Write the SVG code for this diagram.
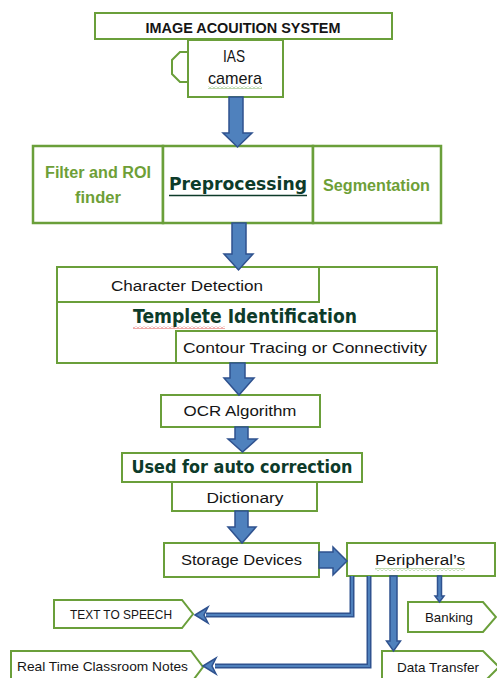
<svg xmlns="http://www.w3.org/2000/svg" width="497" height="678" viewBox="0 0 497 678">
  <defs>
    <style>
      .box { fill: #ffffff; stroke: #6A9F3A; stroke-width: 2; }
      .boxb { fill: #ffffff; stroke: #6A9F3A; stroke-width: 2.5; }
      .t { font-family: "Liberation Sans", Arial, sans-serif; font-size: 15.5px; fill: #151515; }
      .tl { font-family: "Liberation Sans", Arial, sans-serif; font-size: 17px; fill: #151515; }
      .ts { font-family: "Liberation Sans", Arial, sans-serif; font-size: 13.5px; fill: #151515; }
      .tb { font-family: "Liberation Sans", Arial, sans-serif; font-size: 14px; font-weight: bold; fill: #151515; }
      .tg { font-family: "Liberation Sans", Arial, sans-serif; font-size: 16px; font-weight: bold; fill: #6E9F37; }
      .th { font-family: "DejaVu Sans", "Liberation Sans", sans-serif; font-weight: bold; fill: #0D3B2A; }
      .blk { fill: #4F81BD; stroke: #2F528F; stroke-width: 1.5; stroke-linejoin: miter; }
      .lineo { fill: none; stroke: #2F528F; stroke-width: 5; }
      .linei { fill: none; stroke: #4F81BD; stroke-width: 2; }
    </style>
    <pattern id="wavyGreen" width="4" height="3" patternUnits="userSpaceOnUse">
      <path d="M0,2.5 L2,0.5 L4,2.5" fill="none" stroke="#5E9E3A" stroke-width="0.8"/>
    </pattern>
    <pattern id="wavyRed" width="4" height="3" patternUnits="userSpaceOnUse">
      <path d="M0,2.5 L2,0.5 L4,2.5" fill="none" stroke="#D9302A" stroke-width="0.8"/>
    </pattern>
  </defs>

  <rect width="497" height="678" fill="#ffffff"/>

  <!-- acquisition stage -->
  <g id="image-acquisition-system">
    <rect class="box" x="95" y="13" width="297" height="26"/>
    <text class="tb" x="243" y="33" text-anchor="middle" textLength="195" lengthAdjust="spacingAndGlyphs">IMAGE ACOUITION SYSTEM</text>
  </g>
  <g id="ias-camera">
    <path d="M188,52 H180 L172,60 V74 L180,82 H188" fill="#ffffff" stroke="#6A9F3A" stroke-width="2"/>
    <rect class="box" x="188" y="40" width="95" height="57"/>
    <text class="tl" x="234" y="62" text-anchor="middle" textLength="22" lengthAdjust="spacingAndGlyphs">IAS</text>
    <text class="tl" x="235" y="84" text-anchor="middle" textLength="54" lengthAdjust="spacingAndGlyphs">camera</text>
    <rect x="208" y="86" width="54" height="3" fill="url(#wavyGreen)"/>
  </g>

  <!-- preprocessing stage -->
  <g id="filter-roi">
    <rect class="boxb" x="33" y="146" width="130" height="77"/>
    <text class="tg" x="98" y="178" text-anchor="middle" textLength="106" lengthAdjust="spacingAndGlyphs">Filter and ROI</text>
    <text class="tg" x="98" y="203" text-anchor="middle" textLength="46" lengthAdjust="spacingAndGlyphs">finder</text>
  </g>
  <g id="preprocessing">
    <rect class="boxb" x="163" y="146" width="150" height="77"/>
    <text class="th" x="238" y="190" font-size="18" text-anchor="middle" textLength="138" lengthAdjust="spacingAndGlyphs">Preprocessing</text>
    <line x1="169" y1="195.5" x2="307" y2="195.5" stroke="#0D3B2A" stroke-width="1.5"/>
  </g>
  <g id="segmentation">
    <rect class="boxb" x="313" y="146" width="128" height="77"/>
    <text class="tg" x="376.5" y="191" text-anchor="middle" textLength="107" lengthAdjust="spacingAndGlyphs">Segmentation</text>
  </g>

  <!-- template identification stage -->
  <g id="template-identification">
    <rect class="box" x="57" y="267" width="380" height="96"/>
    <text class="th" x="245" y="323" font-size="19" text-anchor="middle" textLength="224" lengthAdjust="spacingAndGlyphs">Templete Identification</text>
    <rect x="133" y="326" width="92" height="3" fill="url(#wavyRed)"/>
  </g>
  <g id="character-detection">
    <rect class="box" x="57" y="267" width="262" height="35"/>
    <text class="t" x="187" y="291" text-anchor="middle" textLength="152" lengthAdjust="spacingAndGlyphs">Character Detection</text>
  </g>
  <g id="contour-tracing">
    <rect class="box" x="176" y="331" width="261" height="32"/>
    <text class="t" x="305" y="353" text-anchor="middle" textLength="244" lengthAdjust="spacingAndGlyphs">Contour Tracing or Connectivity</text>
  </g>

  <!-- recognition stage -->
  <g id="ocr-algorithm">
    <rect class="box" x="161" y="395" width="159" height="32"/>
    <text class="t" x="240" y="416" text-anchor="middle" textLength="113" lengthAdjust="spacingAndGlyphs">OCR Algorithm</text>
  </g>
  <g id="auto-correction">
    <rect class="box" x="122" y="453" width="240" height="29"/>
    <text class="th" x="242" y="473" font-size="17.5" text-anchor="middle" textLength="221" lengthAdjust="spacingAndGlyphs">Used for auto correction</text>
  </g>
  <g id="dictionary">
    <rect class="box" x="172" y="482" width="145" height="29"/>
    <text class="t" x="245" y="503" text-anchor="middle" textLength="77" lengthAdjust="spacingAndGlyphs">Dictionary</text>
  </g>
  <g id="storage-devices">
    <rect class="box" x="164" y="543" width="155" height="34"/>
    <text class="t" x="241.5" y="565" text-anchor="middle" textLength="121" lengthAdjust="spacingAndGlyphs">Storage Devices</text>
  </g>
  <g id="peripherals">
    <rect class="box" x="347" y="543" width="148" height="33"/>
    <text class="t" x="420" y="565" text-anchor="middle" textLength="90" lengthAdjust="spacingAndGlyphs">Peripheral’s</text>
    <rect x="375" y="568" width="90" height="3" fill="url(#wavyGreen)"/>
  </g>

  <!-- outputs -->
  <g id="text-to-speech">
    <path class="box" d="M54,600 H182 L193,614 L182,628 H54 Z"/>
    <text class="ts" x="121" y="619" text-anchor="middle" textLength="102" lengthAdjust="spacingAndGlyphs">TEXT TO SPEECH</text>
  </g>
  <g id="classroom-notes">
    <path class="box" d="M11,651 H191 L203,667 L191,683 H11 Z"/>
    <text class="ts" x="102.5" y="671" text-anchor="middle" textLength="171" lengthAdjust="spacingAndGlyphs">Real Time Classroom Notes</text>
  </g>
  <g id="banking">
    <path class="box" d="M408,602 H483 L496,617 L483,632 H408 Z"/>
    <text class="ts" x="449" y="622" text-anchor="middle" textLength="48" lengthAdjust="spacingAndGlyphs">Banking</text>
  </g>
  <g id="data-transfer">
    <path class="box" d="M382,651 H483 L499,667 L483,683 H382 Z"/>
    <text class="ts" x="438" y="672" text-anchor="middle" textLength="82" lengthAdjust="spacingAndGlyphs">Data Transfer</text>
  </g>

  <!-- connectors -->
  <g id="connectors">
    <path class="blk" d="M229,97 H243 V133 H252 L237.5,147 L223,133 H229 Z"/>
    <path class="blk" d="M232,223 H246 V254 H253 L238.5,270 L224,254 H232 Z"/>
    <path class="blk" d="M230,363 H245 V378 H254 L239,395 L224,378 H230 Z"/>
    <path class="blk" d="M235,427 H248 V439 H257 L242.5,452 L228,439 H235 Z"/>
    <path class="blk" d="M235,511 H248 V527 H256 L242,543 L228,527 H235 Z"/>
    <path class="blk" d="M319,552 H333 V547 L347,561 L333,575 V568 H319 Z"/>

    <path class="lineo" d="M352,576 V615 H206"/>
    <path class="linei" d="M352,576 V615 H206"/>
    <path class="blk" d="M195,615 L208,607 L204,615 L208,623 Z"/>

    <path class="lineo" d="M369,576 V666 H215"/>
    <path class="linei" d="M369,576 V666 H215"/>
    <path class="blk" d="M203,666 L216,658 L212,666 L216,674 Z"/>

    <path class="blk" d="M390,576 H397 V641 H400.5 L393.5,651 L386.5,641 H390 Z"/>
    <path class="blk" d="M437.5,576 H441.5 V596 H444 L439.5,602 L435,596 H437.5 Z"/>
  </g>
</svg>
